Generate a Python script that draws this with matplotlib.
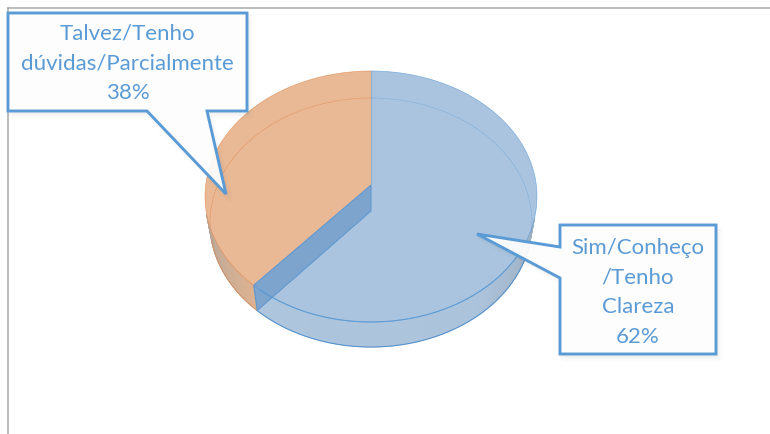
import numpy as np
import matplotlib
matplotlib.use("Agg")
import matplotlib.pyplot as plt
from matplotlib.patches import Polygon

categories = ["Talvez/Tenho\ndúvidas/Parcialmente", "Sim/Conheço\n/Tenho\nClareza"]
shares = [38, 62]
face_colors = ["#E9B895", "#AAC4DF"]
edge_colors = ["#E08A4E", "#5B9BD5"]
ACCENT = "#5B9BD5"

W, H = 770, 434
fig = plt.figure(figsize=(W / 100, H / 100), dpi=100)
ax = fig.add_axes([0, 0, 1, 1])
ax.set_xlim(0, W)
ax.set_ylim(H, 0)
ax.axis("off")

# outer chart frame (only top and left visible)
ax.plot([8, 770], [8, 8], color="#A8A8A8", lw=1.1, zorder=1)
ax.plot([8, 8], [8, 434], color="#A8A8A8", lw=1.1, zorder=1)

# pie geometry (perspective disc)
CX = 371
TOP = dict(cy=196.5, rx=166, ry=125.5, ax=185)
BOT = dict(cy=222.5, rx=161, ry=124.5, ax=211)
PERSPECTIVE = 1.008  # slight angular stretch caused by the 3D view


def arc(g, a0, a1, n=200):
    t = np.radians(np.linspace(a0, a1, n))
    return np.column_stack([CX + g["rx"] * np.sin(t), g["cy"] - g["ry"] * np.cos(t)])


# cumulative angles, clockwise from 12 o'clock: blue first, orange after
blue_end = 360 * shares[1] / sum(shares) * PERSPECTIVE
orange_range = (blue_end, 360)
blue_range = (0, blue_end)


def wall(a0, a1, c0, c1):
    n = 60
    angs = np.linspace(a0, a1, n + 1)
    c0, c1 = np.array(matplotlib.colors.to_rgb(c0)), np.array(matplotlib.colors.to_rgb(c1))
    for i in range(n):
        u = arc(TOP, angs[i], angs[i + 1], 4)
        l = arc(BOT, angs[i], angs[i + 1], 4)
        f = i / (n - 1)
        col = c0 * (1 - f) + c1 * f
        ax.add_patch(Polygon(np.vstack([u, l[::-1]]), closed=True, fc=col, ec=col, lw=0.8, zorder=2))


wall(100, 140, "#9DAEBF", "#ACC3DC")
wall(140, blue_end, "#ACC3DC", "#AEC5DE")
wall(blue_end, 262, "#DDB291", "#B9A899")

# bottom-edge outlines of wall
b = arc(BOT, 100, blue_end)
ax.plot(b[:, 0], b[:, 1], color="#4F8FCC", lw=0.7, zorder=3)
b = arc(BOT, blue_end, 262)
ax.plot(b[:, 0], b[:, 1], color="#D08A5C", lw=0.5, zorder=3)

# top surface
apex = np.array([[CX, TOP["ax"]]])
top_orange = np.vstack([apex, arc(TOP, *orange_range)])
top_blue = np.vstack([apex, arc(TOP, *blue_range)])
ax.add_patch(Polygon(top_orange, closed=True, fc=face_colors[0], ec="none", zorder=4))
ax.add_patch(Polygon(top_blue, closed=True, fc=face_colors[1], ec="none", zorder=4))

# cut face seen through the translucent slice
p_top = arc(TOP, blue_end, blue_end, 1)[0]
p_bot = arc(BOT, blue_end, blue_end, 1)[0]
cut = [[CX, TOP["ax"]], [CX, BOT["ax"]], p_bot, p_top]
ax.add_patch(Polygon(cut, closed=True, fc="#7CA4CD", ec="#5B96CF", lw=0.7, zorder=5))
ax.plot([CX, CX], [TOP["cy"] - TOP["ry"], TOP["ax"]], color="#8FB0D2", lw=0.8, zorder=5)

# rim outlines of top surface
r = arc(TOP, *blue_range)
ax.plot(r[:, 0], r[:, 1], color=edge_colors[1], lw=0.5, alpha=0.7, zorder=5)
r = arc(TOP, *orange_range)
ax.plot(r[:, 0], r[:, 1], color=edge_colors[0], lw=0.5, alpha=0.7, zorder=5)

# far rim of the lower disc, seen through the top
r = arc(BOT, -92, 0)
ax.plot(r[:, 0], r[:, 1], color=edge_colors[0], lw=0.5, alpha=0.75, ls=(0, (3, 1)), zorder=5)
r = arc(BOT, 0, 95)
ax.plot(r[:, 0], r[:, 1], color=edge_colors[1], lw=0.5, alpha=0.55, ls=(0, (3, 1)), zorder=5)
r = arc(TOP, 112, blue_end - 3)
ax.plot(r[:, 0], r[:, 1], color=edge_colors[1], lw=0.8, alpha=0.9, zorder=5)


# callouts
def callout(pts, lines, x, ys):
    pts = np.array(pts, float)
    for d, a in zip((5, 4, 3, 2), (0.006, 0.008, 0.01, 0.012)):
        ax.add_patch(Polygon(pts + [d * 0.7, d], closed=True, fc="#555555", ec="#555555",
                             lw=d, alpha=a, zorder=6, joinstyle="round"))
    ax.add_patch(Polygon(pts, closed=True, fc=(0.995, 0.995, 0.995, 0.93), ec=ACCENT, lw=2.1,
                         joinstyle="miter", zorder=7))
    for s, y in zip(lines, ys):
        ax.text(x, y, s, ha="center", va="center", color=ACCENT, fontsize=16,
                family="Lato", zorder=8)


orange_lines = categories[0].split("\n") + [f"{shares[0]}%"]
blue_lines = categories[1].split("\n") + [f"{shares[1]}%"]
callout([(8, 13), (247, 13), (247, 111), (207, 111), (226, 194), (147, 111), (8, 111)],
        orange_lines, 127.5, [34, 63, 93])
callout([(560, 225), (716, 225), (716, 354), (560, 354), (560, 278), (477, 234), (560, 247)],
        blue_lines, 638, [248, 278, 307, 337])

fig.savefig("out.png", dpi=100, facecolor="white")
